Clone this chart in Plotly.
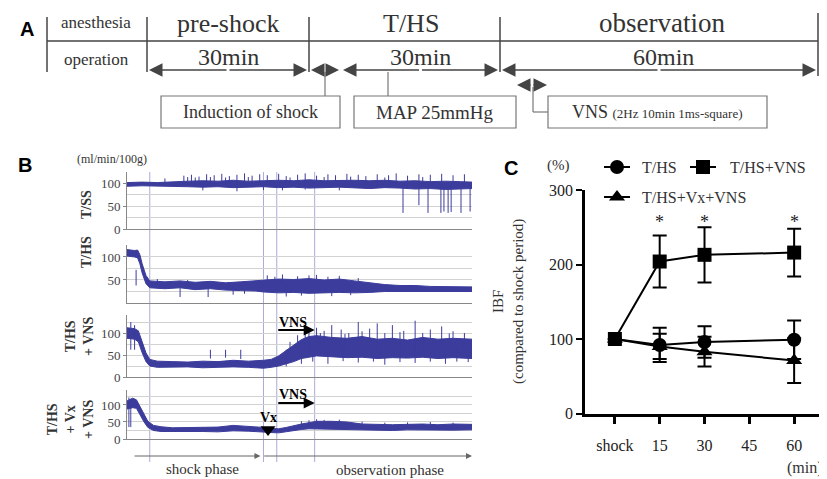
import plotly.graph_objects as go

# reference canvas is 827x479; the page body adds an 8px offset, so the figure
# itself is 819x471 and all reference pixel positions are mapped with that offset.
W, H = 827, 479
OFF = 8
FW, FH = W - OFF, H - OFF
SERIF = "Liberation Serif, Times New Roman, serif"
SANS = "Liberation Sans, Arial, sans-serif"
TRACE = "#3c3c9c"
VLINE = "#a9add6"
GRID = "#d2d2d2"
INK = "#333333"

def fx(p): return (p - OFF) / FW
def fy(p): return 1 - (p - OFF) / FH

# ---------------- Panel B data (time in min, blood flow ml/min/100g) ----------------
phase_lines = [0, 30, 33.5, 43.5]
t_range = [-6, 85]

# T/SS
tss_t = [-6, -2, 2, 6, 10, 14, 18, 22, 26, 30, 34, 38, 42, 46, 50, 54, 58, 62, 66, 70, 74, 78, 82, 85]
tss_lo = [93, 94, 94, 93, 92, 91, 92, 90, 91, 92, 90, 91, 89, 90, 91, 89, 88, 90, 89, 87, 88, 86, 87, 88]
tss_hi = [101, 102, 101, 103, 104, 105, 104, 106, 104, 105, 106, 105, 107, 105, 106, 106, 105, 106, 104, 105, 103, 104, 103, 102]
tss_up_t = [4, 9, 10, 11, 12, 13, 15, 16, 17, 19, 20, 21, 23, 25, 26, 27, 29, 31, 34, 36, 37, 39, 41, 44, 46, 47, 49, 52, 53, 55, 57, 60, 62, 63, 65, 68, 71, 72, 74, 77, 80, 83]
tss_up_v = [110, 116, 113, 118, 112, 114, 119, 113, 117, 120, 112, 115, 118, 121, 113, 116, 119, 117, 120, 115, 112, 118, 121, 116, 113, 119, 117, 120, 114, 118, 115, 119, 112, 117, 121, 116, 119, 113, 118, 120, 117, 119]
tss_dn_t = [14, 23, 30, 35, 41, 50, 66.8, 71, 73.4, 76.8, 77.6, 78.7, 79.5, 82.1, 84.5]
tss_dn_v = [84, 82, 85, 84, 86, 84, 35, 52, 35, 35, 38, 35, 37, 35, 38]

# T/HS
ths_t = [-6, -4, -3.2, -2.6, -2, -1, 0, 4, 8, 12, 16, 20, 24, 28, 30, 34, 38, 42, 46, 50, 54, 58, 62, 66, 70, 74, 78, 82, 85]
ths_hi = [116, 114, 115, 105, 85, 60, 48, 46, 48, 45, 47, 44, 46, 48, 50, 52, 51, 53, 50, 52, 48, 44, 40, 38, 38, 36, 36, 35, 35]
ths_lo = [102, 100, 98, 85, 65, 42, 33, 31, 33, 29, 31, 28, 27, 26, 24, 22, 23, 21, 22, 23, 22, 23, 25, 25, 24, 25, 24, 25, 25]
ths_dn_t = [-3.6, 8, 15.4, 22, 25, 36, 40, 48, 53]
ths_dn_v = [72, 13, 13, 18, 20, 14, 16, 15, 17]
ths_up_t = [2, 10, 31, 33, 35, 39, 42, 44, 47, 50, 55]
ths_up_v = [52, 50, 60, 57, 62, 58, 60, 61, 57, 59, 54]

# T/HS + VNS
vns_t = [-6, -4, -3, -2, -1, 0, 2, 6, 10, 14, 18, 22, 26, 30, 32, 34, 36, 38, 40, 42, 44, 48, 52, 56, 60, 64, 68, 72, 76, 80, 85]
vns_hi = [112, 110, 105, 80, 55, 40, 36, 35, 34, 36, 35, 38, 36, 38, 40, 48, 60, 72, 85, 92, 94, 90, 88, 92, 86, 88, 84, 90, 86, 88, 86]
vns_lo = [88, 86, 80, 55, 35, 25, 22, 22, 23, 21, 22, 23, 22, 20, 22, 25, 30, 35, 42, 45, 48, 46, 44, 45, 42, 44, 43, 45, 42, 44, 42]
vns_up_t = [-5, -4, 16, 20, 24, 37, 39, 41, 42, 44, 45, 46, 48, 50.5, 51.5, 52.5, 55, 56, 58, 60, 62, 64, 66, 67, 70, 72, 74, 77, 79, 80, 83]
vns_up_v = [125, 118, 42, 44, 41, 80, 95, 110, 102, 112, 100, 105, 118, 108, 98, 100, 125, 104, 110, 122, 100, 118, 102, 105, 128, 100, 108, 115, 99, 104, 100]
vns_dn_t = [36, 40, 43, 47, 51, 55, 59, 62, 66, 70, 74, 78, 81, 84]
vns_dn_v = [24, 30, 35, 30, 36, 33, 35, 28, 34, 32, 35, 30, 35, 34]

# T/HS + Vx + VNS
vx_t = [-6, -4.5, -3.5, -2.5, -1.5, -0.5, 1, 3, 6, 10, 14, 18, 22, 26, 30, 32, 34, 36, 38, 40, 42, 44, 48, 52, 56, 60, 64, 68, 72, 76, 80, 85]
vx_hi = [112, 120, 115, 95, 72, 52, 40, 36, 33, 34, 33, 35, 40, 38, 34, 31, 30, 34, 40, 44, 48, 52, 52, 50, 44, 42, 42, 43, 44, 42, 44, 43]
vx_lo = [88, 92, 90, 72, 50, 34, 25, 22, 21, 22, 22, 21, 24, 23, 21, 19, 18, 21, 24, 28, 30, 31, 30, 28, 26, 26, 25, 27, 26, 27, 26, 27]
vx_up_t = [-5.5, -5, 40, 42, 44, 46, 50, 56, 62, 68, 74, 80]
vx_up_v = [122, 118, 52, 55, 58, 56, 57, 51, 48, 49, 50, 48]
vx_time = 31.2
vns_start, vns_end = 33.5, 43.5

# ---------------- Panel C data ----------------
c_x = [0, 15, 30, 60]
c_ticks = [0, 15, 30, 45, 60]
c_ticktext = ["shock", "15", "30", "45", "60"]
c_ths = [100, 92, 96, 99]
c_ths_err = [0, 23, 21, 26]
c_ths_vns = [100, 204, 213, 216]
c_ths_vns_err = [0, 35, 37, 32]
c_ths_vx = [100, 90, 83, 71]
c_ths_vx_err = [0, 17, 20, 30]
c_sig_x = [15, 30, 60]

fig = go.Figure()

# ---------------- Panel B traces ----------------
strips = [
    dict(t=tss_t, lo=tss_lo, hi=tss_hi, up=(tss_up_t, tss_up_v), dn=(tss_dn_t, tss_dn_v), bot=229, top=172, rng=[0, 124], ticks=[0, 50, 100], base=97),
    dict(t=ths_t, lo=ths_lo, hi=ths_hi, up=(ths_up_t, ths_up_v), dn=(ths_dn_t, ths_dn_v), bot=303, top=245, rng=[0, 126], ticks=[50, 100], base=38),
    dict(t=vns_t, lo=vns_lo, hi=vns_hi, up=(vns_up_t, vns_up_v), dn=(vns_dn_t, vns_dn_v), bot=377, top=315, rng=[0, 141], ticks=[0, 50, 100], base=62),
    dict(t=vx_t, lo=vx_lo, hi=vx_hi, up=(vx_up_t, vx_up_v), dn=([], []), bot=439, top=390, rng=[0, 144], ticks=[0, 50, 100], base=35),
]

def spikes(ts, vs, base):
    xs, ys = [], []
    for t, v in zip(ts, vs):
        xs += [t, t, None]
        ys += [base, v, None]
    return xs, ys

for i, s in enumerate(strips, start=1):
    xa = "x" if i == 1 else f"x{i}"
    ya = "y" if i == 1 else f"y{i}"
    fig.add_trace(go.Scatter(x=s["t"] + s["t"][::-1], y=s["hi"] + s["lo"][::-1], fill="toself",
                             fillcolor=TRACE, line=dict(color=TRACE, width=1), mode="lines",
                             xaxis=xa, yaxis=ya, hoverinfo="skip"))
    xs, ys = spikes(s["up"][0] + s["dn"][0], s["up"][1] + s["dn"][1], s["base"])
    if xs:
        fig.add_trace(go.Scatter(x=xs, y=ys, mode="lines", line=dict(color=TRACE, width=1),
                                 xaxis=xa, yaxis=ya, hoverinfo="skip"))
    fig.layout[f"xaxis{i if i > 1 else ''}"] = dict(
        domain=[fx(127), fx(472)], range=t_range, anchor=ya, showline=True, linecolor="#888",
        linewidth=1.2, showticklabels=False, ticks="", showgrid=False, zeroline=False,
        automargin=False)
    fig.layout[f"yaxis{i if i > 1 else ''}"] = dict(
        domain=[fy(s["bot"]), fy(s["top"])], range=s["rng"], anchor=xa, showline=True,
        linecolor="#888", linewidth=1, ticks="outside", ticklen=3, tickcolor="#888",
        tickvals=s["ticks"], tickfont=dict(family=SERIF, size=13, color="#444"),
        showgrid=True, gridcolor=GRID, gridwidth=1, zeroline=False, automargin=False,
        minor=dict(dtick=25, showgrid=True, gridcolor=GRID, ticks=""))

# Vx marker
fig.add_trace(go.Scatter(x=[vx_time], y=[28], mode="markers", xaxis="x4", yaxis="y4",
                         marker=dict(symbol="triangle-down", size=13, color="black"),
                         cliponaxis=False, hoverinfo="skip"))

# ---------------- Panel C traces ----------------
def ctrace(y, err, symbol, size):
    return go.Scatter(x=c_x, y=y, mode="lines+markers", xaxis="x5", yaxis="y5",
                      line=dict(color="black", width=2),
                      marker=dict(symbol=symbol, size=size, color="black"),
                      error_y=dict(type="data", array=err, color="black", thickness=2, width=7),
                      cliponaxis=False, hoverinfo="skip")

fig.add_trace(ctrace(c_ths, c_ths_err, "circle", 14))
fig.add_trace(ctrace(c_ths_vx, c_ths_vx_err, "triangle-up", 14))
fig.add_trace(ctrace(c_ths_vns, c_ths_vns_err, "square", 14))

fig.layout.xaxis5 = dict(domain=[fx(585), 1], range=[-10, 71], anchor="y5", showline=True,
                         linecolor="black", linewidth=2.5, ticks="outside", ticklen=8, tickwidth=2.5,
                         tickcolor="black", tickvals=c_ticks, ticktext=c_ticktext, showgrid=False,
                         zeroline=False, ticklabelstandoff=8, automargin=False,
                         tickfont=dict(family=SERIF, size=16, color="#222"))
fig.layout.yaxis5 = dict(domain=[fy(413.5), fy(190)], range=[0, 300], anchor="x5", showline=True,
                         linecolor="black", linewidth=2.5, ticks="outside", ticklen=6, tickwidth=2,
                         tickcolor="black", tickvals=[0, 100, 200, 300], showgrid=False, zeroline=False,
                         automargin=False, tickfont=dict(family=SERIF, size=16, color="#222"))

# ---------------- overlay pixel axis for diagram / legend ----------------
leg_x = [617, 703, 617]
leg_y = [167, 167, 197]
fig.add_trace(go.Scatter(x=leg_x, y=leg_y, mode="markers", xaxis="x7", yaxis="y7",
                         marker=dict(symbol=["circle", "square", "triangle-up"], size=14, color="black"),
                         hoverinfo="skip", cliponaxis=False))
fig.layout.xaxis7 = dict(domain=[0, 1], range=[OFF, W], visible=False, anchor="y7", fixedrange=True)
fig.layout.yaxis7 = dict(domain=[0, 1], range=[H, OFF], visible=False, anchor="x7", fixedrange=True)

shapes = []
anns = []

def pline(x0, y0, x1, y1, color="#444", width=1.5):
    shapes.append(dict(type="line", xref="x7", yref="y7", x0=x0, y0=y0, x1=x1, y1=y1,
                       line=dict(color=color, width=width), layer="above"))

def prect(x0, y0, x1, y1):
    shapes.append(dict(type="rect", xref="x7", yref="y7", x0=x0, y0=y0, x1=x1, y1=y1,
                       line=dict(color="#777", width=1.2), layer="above"))

def ptext(x, y, text, size, family=SERIF, color=INK, angle=0, xanchor="center", bold=False):
    if bold:
        text = f"<b>{text}</b>"
    anns.append(dict(x=x, y=y, xref="x7", yref="y7", text=text, showarrow=False, textangle=angle,
                     font=dict(family=family, size=size, color=color), xanchor=xanchor, yanchor="middle"))

def parrow(xh, yh, xt, yt, color="#444", width=1.5, size=1.8):
    anns.append(dict(x=xh, y=yh, ax=xt, ay=yt, xref="x7", yref="y7", axref="x7", ayref="y7",
                     text="", showarrow=True, arrowhead=2, arrowsize=size, arrowwidth=width,
                     arrowcolor=color))

def pdarrow(x0, x1, y):
    m = (x0 + x1) / 2
    parrow(x0, y, m, y)
    parrow(x1, y, m, y)

# Panel A
ptext(27, 29, "A", 20, SANS, "black", bold=True)
for xv in [47, 147, 309, 500]:
    pline(xv, 17, xv, 72)
pline(818, 13, 818, 76)
pline(47, 41, 818, 41)
ptext(96, 22, "anesthesia", 17)
ptext(96, 59, "operation", 17)
ptext(228, 23, "pre-shock", 26)
ptext(411, 23, "T/HS", 26)
ptext(662, 23, "observation", 27)
ptext(228, 57, "30min", 24)
ptext(420, 57, "30min", 24)
ptext(663, 57, "60min", 24)
pdarrow(149, 307, 70)
pdarrow(311, 339, 70)
pdarrow(343, 498, 70)
pdarrow(502, 816, 70)
pdarrow(517, 547, 85)
pline(325, 72, 325, 96, "#777", 1.2)
pline(388, 72, 388, 96, "#777", 1.2)
pline(533, 87, 533, 112, "#777", 1.2)
pline(533, 112, 548, 112, "#777", 1.2)
prect(161, 96, 340, 128)
prect(354, 96, 516, 128)
prect(548, 96, 767, 128)
ptext(250, 112, "Induction of shock", 18)
ptext(435, 112, "MAP 25mmHg", 19)
ptext(657, 112, "VNS <span style='font-size:13px'>(2Hz 10min 1ms-square)</span>", 18)

# Panel B labels
ptext(25, 165, "B", 20, SANS, "black", bold=True)
ptext(112, 159, "(ml/min/100g)", 12)
ptext(86, 205, "T/SS", 14, bold=True, angle=-90)
ptext(86, 252, "T/HS", 14, bold=True, angle=-90)
ptext(79, 337, "T/HS<br>+ VNS", 14, bold=True, angle=-90)
ptext(70, 420, "T/HS<br>+ Vx<br>+ VNS", 14, bold=True, angle=-90)
ptext(202, 469, "shock phase", 15)
ptext(390, 470, "observation phase", 15)

# phase lines spanning all strips
for tv in phase_lines:
    shapes.append(dict(type="line", xref="x", yref="paper", x0=tv, x1=tv, y0=fy(462), y1=fy(172),
                       line=dict(color=VLINE, width=1), layer="below"))

# bottom phase arrows (time-referenced)
for t0, t1 in [(-4.4, 29.2), (29.8, 85)]:
    anns.append(dict(x=t1, y=456, ax=t0, ay=456, xref="x", yref="y7", axref="x", ayref="y7",
                     text="", showarrow=True, arrowhead=2, arrowsize=1.2, arrowwidth=1, arrowcolor="#666"))

# VNS arrows & labels in strips 3 and 4
for xa, ya, yarr, ytxt in [("x3", "y3", 107, 124), ("x4", "y4", 106, 131)]:
    anns.append(dict(x=vns_end, y=yarr, ax=vns_start, ay=yarr, xref=xa, yref=ya, axref=xa, ayref=ya,
                     text="", showarrow=True, arrowhead=2, arrowsize=1.1, arrowwidth=2, arrowcolor="black"))
    anns.append(dict(x=(vns_start + vns_end) / 2 - 0.8, y=ytxt, xref=xa, yref=ya, text="<b>VNS</b>",
                     showarrow=False, font=dict(family=SERIF, size=14, color="black")))
anns.append(dict(x=vx_time, y=64, xref="x4", yref="y4", text="<b>Vx</b>", showarrow=False,
                 font=dict(family=SERIF, size=14, color="black")))

# Panel C labels / legend
ptext(511, 168, "C", 20, SANS, "black", bold=True)
ptext(558, 165, "(%)", 15)
ptext(825, 468, "(min)", 16, xanchor="right")
ptext(508, 302, "IBF<br>(compared to shock period)", 15, angle=-90)
for (x0, x1, y) in [(604, 630, 167), (690, 716, 167), (604, 630, 197)]:
    pline(x0, y, x1, y, "black", 2)
ptext(640, 167, "T/HS", 16, xanchor="left")
ptext(728, 167, "T/HS+VNS", 16, xanchor="left")
ptext(640, 197, "T/HS+Vx+VNS", 16, xanchor="left")
for xs in c_sig_x:
    anns.append(dict(x=xs, y=257, xref="x5", yref="y5", text="*", showarrow=False,
                     font=dict(family=SERIF, size=18, color="#222")))

fig.update_layout(width=FW, height=FH, margin=dict(l=0, r=0, t=0, b=0, autoexpand=False),
                  paper_bgcolor="white", plot_bgcolor="rgba(0,0,0,0)", showlegend=False,
                  shapes=shapes, annotations=anns)

fig.write_html("out.html")
